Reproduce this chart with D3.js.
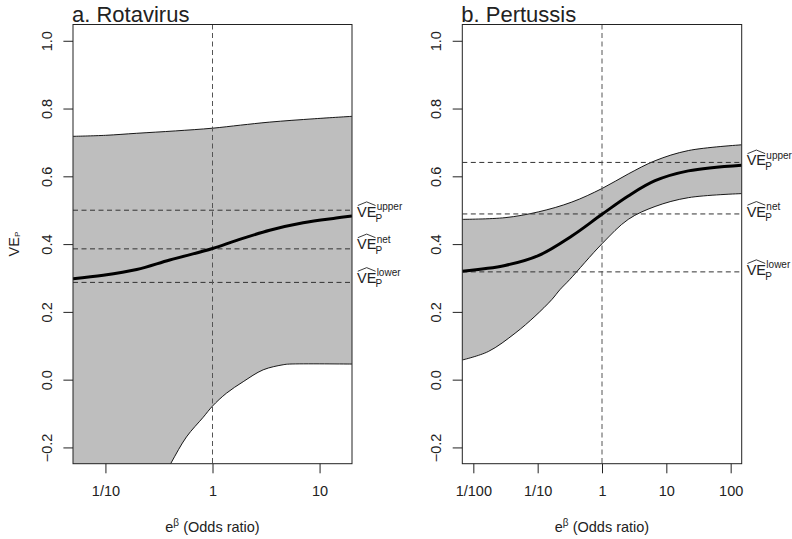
<!DOCTYPE html>
<html>
<head>
<meta charset="utf-8">
<script src="https://d3js.org/d3.v7.min.js"></script>
<style>
  body { margin: 0; background: #fff; }
  text { font-family: "Liberation Sans", Arial, Helvetica, sans-serif; fill: #222; }
</style>
</head>
<body>
<div id="chart"></div>
<script>
// ---- data (x values are beta = log odds ratio) ----
// a. Rotavirus
var rotaMainBeta  = [-3, -2.35, -1.63, -0.92, 0, 0.52, 1.23, 1.95, 2.66, 3];
var rotaMain      = [0.298, 0.308, 0.325, 0.353, 0.387, 0.411, 0.441, 0.463, 0.477, 0.483];
var rotaUpperBeta = [-3, -2.3, -1.63, -0.8, 0, 0.6, 1.23, 2.2, 3];
var rotaUpper     = [0.718, 0.721, 0.727, 0.734, 0.742, 0.751, 0.760, 0.770, 0.777];
var rotaLowerBeta = [-3, -2.2, -1.5, -0.9, -0.56, -0.2, 0, 0.3, 0.66, 1.09, 1.52, 1.66, 3];
var rotaLower     = [-0.78, -0.58, -0.40, -0.248, -0.169, -0.111, -0.078, -0.040, -0.006, 0.029, 0.044, 0.046, 0.046];
var rotaRefs      = [0.500, 0.386, 0.287];   // upper, net, lower
var rotaLabelPos  = [0.495, 0.400, 0.301];

// b. Pertussis
var pertMainBeta  = [-5, -3.47, -2.28, -1.08, 0, 0.94, 1.90, 3.09, 5];
var pertMain      = [0.320, 0.337, 0.366, 0.424, 0.488, 0.542, 0.587, 0.616, 0.633];
var pertUpperBeta = [-5, -3.47, -2.28, -1.08, 0, 0.94, 1.90, 3.09, 5];
var pertUpper     = [0.473, 0.478, 0.495, 0.524, 0.564, 0.607, 0.646, 0.676, 0.693];
var pertLowerBeta = [-5, -4.07, -3.11, -2.40, -1.80, -1.50, -1.16, 0, 0.94, 1.90, 3.09, 5];
var pertLower     = [0.058, 0.083, 0.137, 0.187, 0.236, 0.266, 0.295, 0.401, 0.473, 0.511, 0.537, 0.549];
var pertRefs      = [0.641, 0.489, 0.318];
var pertLabelPos  = [0.648, 0.496, 0.324];

var refNames = ["upper", "net", "lower"];
var yTicks = [-0.2, 0, 0.2, 0.4, 0.6, 0.8, 1.0];
var ticksA = [0.1, 1, 10], tickLabelsA = ["1/10", "1", "10"];
var ticksB = [0.01, 0.1, 1, 10, 100], tickLabelsB = ["1/100", "1/10", "1", "10", "100"];

var W = 792, H = 539;
var plotTop = 24.5, plotBottom = 463.7;

var svg = d3.select("#chart").append("svg")
  .attr("width", W).attr("height", H);

var y = d3.scaleLinear().domain([-0.248, 1.048]).range([plotBottom, plotTop]);

function zip(bs, vs) { return bs.map(function(b, i) { return {b: b, v: vs[i]}; }); }

function drawPanel(opt) {
  var x = d3.scaleLog().domain([Math.exp(-opt.maxBeta), Math.exp(opt.maxBeta)])
    .range([opt.left, opt.right]);
  var g = svg.append("g");
  var clipId = "clip" + opt.id;
  svg.append("clipPath").attr("id", clipId).append("rect")
    .attr("x", opt.left).attr("y", plotTop)
    .attr("width", opt.right - opt.left).attr("height", plotBottom - plotTop);
  var plot = g.append("g").attr("clip-path", "url(#" + clipId + ")");

  // band between lower and upper
  var up = zip(opt.upperBeta, opt.upper), lo = zip(opt.lowerBeta, opt.lower);
  var line = d3.line().x(function(d) { return x(Math.exp(d.b)); })
    .y(function(d) { return y(d.v); }).curve(d3.curveCatmullRom.alpha(0.5));
  var upPath = line(up), loPath = line(lo.slice().reverse());
  plot.append("path")
    .attr("d", upPath + "L" + loPath.slice(1) + "Z")
    .attr("fill", "#bebebe").attr("stroke", "none");
  plot.append("path").attr("d", upPath).attr("fill", "none").attr("stroke", "#000").attr("stroke-width", 0.9);
  plot.append("path").attr("d", line(lo)).attr("fill", "none").attr("stroke", "#000").attr("stroke-width", 0.9);

  // reference lines
  plot.selectAll(".href").data(opt.refs).enter().append("line")
    .attr("x1", opt.left).attr("x2", opt.right)
    .attr("y1", function(d) { return y(d); }).attr("y2", function(d) { return y(d); })
    .attr("stroke", "#333").attr("stroke-width", 1).attr("stroke-dasharray", "5,3.5");
  plot.append("line")
    .attr("x1", x(1)).attr("x2", x(1)).attr("y1", plotTop).attr("y2", plotBottom)
    .attr("stroke", "#555").attr("stroke-width", 1).attr("stroke-dasharray", "5,3.5");

  // main curve
  plot.append("path").attr("d", line(zip(opt.mainBeta, opt.main)))
    .attr("fill", "none").attr("stroke", "#000").attr("stroke-width", 3);

  // box
  g.append("rect").attr("x", opt.left).attr("y", plotTop)
    .attr("width", opt.right - opt.left).attr("height", plotBottom - plotTop)
    .attr("fill", "none").attr("stroke", "#222").attr("stroke-width", 1);

  // x axis
  var xa = g.append("g").attr("transform", "translate(0," + plotBottom + ")")
    .call(d3.axisBottom(x).tickValues(opt.ticks).tickSize(9.6).tickPadding(12.5)
      .tickFormat(function(d, i) { return opt.tickLabels[i]; }));
  xa.select(".domain").remove();
  xa.attr("font-size", null).attr("font-family", null);
  xa.selectAll("text").attr("font-size", "14.5px").attr("fill", "#222");
  xa.selectAll("line").attr("stroke", "#222");

  // y axis
  var ya = g.append("g").attr("transform", "translate(" + opt.left + ",0)")
    .call(d3.axisLeft(y).tickValues(yTicks).tickSize(9.6)
      .tickFormat(function(d) { return d < 0 ? "\u22120.2" : d3.format(".1f")(d); }));
  ya.select(".domain").remove();
  ya.attr("font-size", null).attr("font-family", null);
  ya.selectAll("line").attr("stroke", "#222");
  ya.selectAll("text")
    .attr("font-size", "14.5px").attr("fill", "#222")
    .attr("transform", "rotate(-90)")
    .attr("x", 0).attr("y", -21).attr("dy", null)
    .attr("text-anchor", "middle");

  // title
  g.append("text").attr("x", opt.left - 1).attr("y", 22.3)
    .attr("font-size", "22px").text(opt.title);

  // x label
  var xl = g.append("text").attr("x", (opt.left + opt.right) / 2).attr("y", 531.7)
    .attr("text-anchor", "middle").attr("font-size", "14.5px");
  xl.append("tspan").text("e");
  xl.append("tspan").attr("font-size", "10px").attr("dy", -6).text("\u03b2");
  xl.append("tspan").attr("dy", 6).text(" (Odds ratio)");

  // right-hand labels
  opt.labelPos.forEach(function(v, i) {
    var lx = opt.right + 5, cy = y(v);
    var base = cy + 5;
    var t = g.append("text").attr("x", lx).attr("y", base).attr("font-size", "14.5px").text("VE");
    var w = t.node().getComputedTextLength();
    g.append("text").attr("x", lx + w + 0.3).attr("y", base - 6.5)
      .attr("font-size", "10px").text(refNames[i]);
    g.append("text").attr("x", lx + w - 0.8).attr("y", base + 4.8)
      .attr("font-size", "10px").text("P");
    var capTop = base - 10.4;
    g.append("path")
      .attr("d", "M" + (lx + 0.8) + "," + (capTop - 1) + "L" + (lx + w / 2) + "," + (capTop - 4.6) +
        "L" + (lx + w - 0.8) + "," + (capTop - 1))
      .attr("fill", "none").attr("stroke", "#222").attr("stroke-width", 0.9);
  });
}

drawPanel({id: "a", left: 73, right: 352, maxBeta: 3, title: "a. Rotavirus",
  mainBeta: rotaMainBeta, main: rotaMain, upperBeta: rotaUpperBeta, upper: rotaUpper,
  lowerBeta: rotaLowerBeta, lower: rotaLower, refs: rotaRefs, labelPos: rotaLabelPos,
  ticks: ticksA, tickLabels: tickLabelsA});
drawPanel({id: "b", left: 462.3, right: 741.7, maxBeta: 5, title: "b. Pertussis",
  mainBeta: pertMainBeta, main: pertMain, upperBeta: pertUpperBeta, upper: pertUpper,
  lowerBeta: pertLowerBeta, lower: pertLower, refs: pertRefs, labelPos: pertLabelPos,
  ticks: ticksB, tickLabels: tickLabelsB});

// y axis label
var yl = svg.append("text").attr("transform", "translate(19," + ((plotTop + plotBottom) / 2) + ") rotate(-90)")
  .attr("text-anchor", "middle").attr("font-size", "14.5px");
yl.append("tspan").text("VE");
yl.append("tspan").attr("font-size", "8px").attr("dy", 0.5).text("P");
</script>
</body>
</html>
